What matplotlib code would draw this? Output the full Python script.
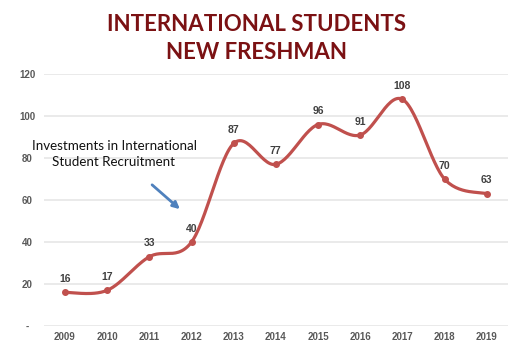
import matplotlib
matplotlib.use("Agg")
import matplotlib.pyplot as plt
import numpy as np

years = ["2009", "2010", "2011", "2012", "2013", "2014", "2015", "2016", "2017", "2018", "2019"]
students = [16, 17, 33, 40, 87, 77, 96, 91, 108, 70, 63]
ytick_vals = [0, 20, 40, 60, 80, 100, 120]
ytick_labels = ["-", "20", "40", "60", "80", "100", "120"]

def smooth(xs, ys, n=30):
    xs = np.asarray(xs, float); ys = np.asarray(ys, float)
    px = np.concatenate([[xs[0]], xs, [xs[-1]]])
    py = np.concatenate([[ys[0]], ys, [ys[-1]]])
    ox, oy = [], []
    t = np.linspace(0, 1, n)
    for i in range(1, len(px) - 2):
        p0, p1, p2, p3 = [np.array([px[j], py[j]]) for j in (i - 1, i, i + 1, i + 2)]
        c1 = p1 + (p2 - p0) / 6.0
        c2 = p2 - (p3 - p1) / 6.0
        b = ((1 - t) ** 3)[:, None] * p1 + (3 * (1 - t) ** 2 * t)[:, None] * c1 \
            + (3 * (1 - t) * t ** 2)[:, None] * c2 + (t ** 3)[:, None] * p2
        ox.extend(b[:, 0]); oy.extend(b[:, 1])
    return np.array(ox), np.array(oy)

fig = plt.figure(figsize=(5.29, 3.53), dpi=100)
ax = fig.add_axes([0.083, 0.0765, 0.877, 0.7135])

x = np.arange(len(years))
sx, sy = smooth(x, students)
red = "#C0504D"
ax.plot(sx, sy, color=red, lw=2.3, solid_capstyle="round", zorder=3)
ax.plot(x, students, "o", color=red, ms=4, zorder=4)

for xi, v in zip(x, students):
    ax.annotate(str(v), (xi, v), xytext=(0, 6), textcoords="offset points",
                ha="center", va="bottom", fontsize=7.5, fontweight="bold",
                color="#404040", family="Liberation Sans")

ax.set_xlim(-0.5, len(years) - 0.5)
ax.set_ylim(0, 120)
ax.set_yticks(ytick_vals)
ax.set_yticklabels(ytick_labels)
ax.set_xticks(x)
ax.set_xticklabels(years)
for lab in ax.get_xticklabels() + ax.get_yticklabels():
    lab.set_fontsize(7)
    lab.set_fontweight("bold")
    lab.set_color("#595959")
    lab.set_family("Liberation Sans")
ax.tick_params(axis="x", length=0, pad=4.5)
ax.tick_params(axis="y", length=0, pad=12)
for lab in ax.get_yticklabels():
    lab.set_horizontalalignment("center")
ax.grid(axis="y", color="#E6E6E6", lw=1.2)
ax.set_axisbelow(True)
for s in ax.spines.values():
    s.set_visible(False)

fig.text(0.485, 0.93, "INTERNATIONAL STUDENTS", ha="center", va="center",
         fontsize=16, fontweight="bold", color="#7B1113", family="Lato")
fig.text(0.485, 0.852, "NEW FRESHMAN", ha="center", va="center",
         fontsize=16, fontweight="bold", color="#7B1113", family="Lato")

fig.text(114 / 529, 1 - 146 / 353, "Investments in International", ha="center",
         va="center", fontsize=9.6, color="#111111", family="Lato")
fig.text(114 / 529, 1 - 162 / 353, "Student Recruitment", ha="center",
         va="center", fontsize=9.6, color="#111111", family="Lato")
ax.annotate("", xy=(182 / 529, 1 - 211 / 353), xytext=(150 / 529, 1 - 183 / 353),
            xycoords="figure fraction", textcoords="figure fraction",
            arrowprops=dict(arrowstyle="-|>", color="#4F81BD", lw=2, mutation_scale=10))

fig.savefig("out.png", dpi=100)
